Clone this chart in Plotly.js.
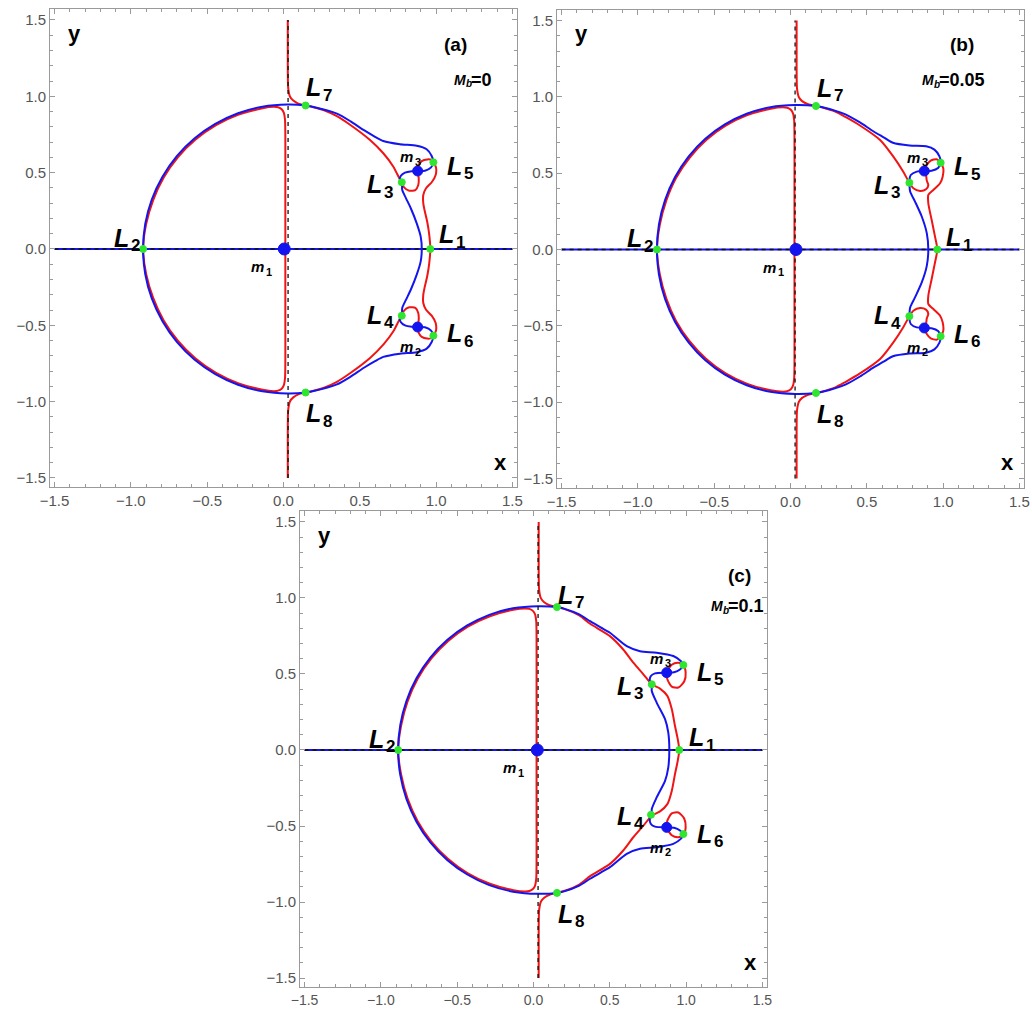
<!DOCTYPE html>
<html>
<head>
<meta charset="utf-8">
<script src="https://cdn.plot.ly/plotly-3.0.1.min.js"></script>
<style>
  html, body { margin: 0; padding: 0; background: #ffffff; }
  #chart { width: 1032px; height: 1009px; }
</style>
</head>
<body>
<div id="chart"></div>
<script>
// Zero-velocity curve families: red = Omega_x = 0, blue = Omega_y = 0,
// green = libration points L1..L8, blue dots = primaries m1, m2, m3.

const MB_VALUES = ['0', '0.05', '0.1'];
const PANEL_TAGS = ['(a)', '(b)', '(c)'];
const LIB_NAMES = ['1', '2', '3', '4', '5', '6', '7', '8'];
const PRIM_NAMES = ['1', '2', '3'];
const AXIS_SPAN = [-1.5, 1.5];
const GUIDE_X = 0.03;
const GUIDE_Y = 0;

// ---------- panel (a), Mb = 0 ----------
const aBlueLoop = [
  [-0.920, 0], [-0.906, 0.164], [-0.863, 0.324], [-0.793, 0.473], [-0.699, 0.608], [-0.582, 0.725],
  [-0.447, 0.819], [-0.298, 0.889], [-0.138, 0.932], [0.026, 0.946], [0.145, 0.940], [0.190, 0.932],
  [0.350, 0.887], [0.440, 0.836], [0.527, 0.778], [0.600, 0.735], [0.654, 0.707], [0.763, 0.686],
  [0.873, 0.676], [0.938, 0.653], [0.971, 0.609], [0.982, 0.568], [0.967, 0.535], [0.927, 0.513],
  [0.879, 0.511], [0.840, 0.509], [0.796, 0.500], [0.768, 0.478], [0.763, 0.452], [0.775, 0.437],
  [0.778, 0.386], [0.803, 0.332], [0.834, 0.267], [0.873, 0.168], [0.899, 0.081], [0.906, 0],
  [0.899, -0.081], [0.873, -0.168], [0.834, -0.267], [0.803, -0.332], [0.778, -0.386], [0.775, -0.437],
  [0.763, -0.452], [0.768, -0.478], [0.796, -0.500], [0.840, -0.509], [0.879, -0.511], [0.927, -0.513],
  [0.967, -0.535], [0.982, -0.568], [0.971, -0.609], [0.938, -0.653], [0.873, -0.676], [0.763, -0.686],
  [0.654, -0.707], [0.600, -0.735], [0.527, -0.778], [0.440, -0.836], [0.350, -0.887], [0.190, -0.932],
  [0.145, -0.940], [0.026, -0.946], [-0.138, -0.932], [-0.298, -0.889], [-0.447, -0.819], [-0.582, -0.725],
  [-0.699, -0.608], [-0.793, -0.473], [-0.863, -0.324], [-0.906, -0.164], [-0.920, 0]
];
const aRedOuter = [
  [0.028, 1.5], [0.028, 1.2], [0.031, 1.052], [0.043, 0.997], [0.064, 0.972], [0.097, 0.952],
  [0.145, 0.940], [0.190, 0.930], [0.270, 0.907], [0.350, 0.870], [0.436, 0.814], [0.567, 0.714],
  [0.654, 0.627], [0.720, 0.539], [0.759, 0.463], [0.775, 0.437], [0.790, 0.404], [0.824, 0.382],
  [0.864, 0.386], [0.883, 0.419], [0.886, 0.463], [0.879, 0.511], [0.886, 0.550], [0.906, 0.576],
  [0.942, 0.587], [0.971, 0.583], [0.982, 0.568], [0.999, 0.535], [0.997, 0.485], [0.971, 0.437],
  [0.934, 0.398], [0.916, 0.354], [0.916, 0.299], [0.924, 0.255], [0.942, 0.177], [0.955, 0.092],
  [0.962, 0],
  [0.955, -0.092], [0.942, -0.177], [0.924, -0.255], [0.916, -0.299], [0.916, -0.354], [0.934, -0.398],
  [0.971, -0.437], [0.997, -0.485], [0.999, -0.535], [0.982, -0.568], [0.971, -0.583], [0.942, -0.587],
  [0.906, -0.576], [0.886, -0.550], [0.879, -0.511], [0.886, -0.463], [0.883, -0.419], [0.864, -0.386],
  [0.824, -0.382], [0.790, -0.404], [0.775, -0.437], [0.759, -0.463], [0.720, -0.539], [0.654, -0.627],
  [0.567, -0.714], [0.436, -0.814], [0.350, -0.870], [0.270, -0.907], [0.190, -0.930], [0.145, -0.940],
  [0.097, -0.952], [0.064, -0.972], [0.043, -0.997], [0.031, -1.052], [0.028, -1.2], [0.028, -1.5]
];
const aRedInner = [
  [0.012, 0], [0.012, 0.4], [0.012, 0.75], [0.010, 0.845], [0.003, 0.890], [-0.012, 0.915],
  [-0.035, 0.928], [-0.065, 0.931], [-0.137, 0.922], [-0.294, 0.880], [-0.442, 0.811], [-0.576, 0.717],
  [-0.691, 0.602], [-0.785, 0.468], [-0.854, 0.320], [-0.900, 0.163], [-0.920, 0],
  [-0.900, -0.163], [-0.854, -0.320], [-0.785, -0.468], [-0.691, -0.602], [-0.576, -0.717], [-0.442, -0.811],
  [-0.294, -0.880], [-0.137, -0.922], [-0.065, -0.931], [-0.035, -0.928], [-0.012, -0.915], [0.003, -0.890],
  [0.010, -0.845], [0.012, -0.75], [0.012, -0.4], [0.012, 0]
];
const aLibPts = [
  [0.962, 0], [-0.920, 0], [0.775, 0.437], [0.775, -0.437],
  [0.982, 0.568], [0.982, -0.568], [0.145, 0.940], [0.145, -0.940]
];
const aPrimPts = [[0.005, 0], [0.879, -0.511], [0.879, 0.511]];

// ---------- panel (b), Mb = 0.05 ----------
const bBlueLoop = [
  [-0.875, 0], [-0.862, 0.164], [-0.822, 0.324], [-0.757, 0.473], [-0.668, 0.608], [-0.558, 0.725],
  [-0.430, 0.819], [-0.287, 0.889], [-0.132, 0.932], [0.030, 0.946], [0.167, 0.940], [0.210, 0.932],
  [0.360, 0.885], [0.455, 0.832], [0.540, 0.776], [0.610, 0.735], [0.671, 0.699], [0.780, 0.681],
  [0.889, 0.676], [0.943, 0.654], [0.976, 0.610], [0.984, 0.568], [0.967, 0.534], [0.924, 0.516],
  [0.877, 0.514], [0.827, 0.510], [0.788, 0.488], [0.779, 0.455], [0.779, 0.437], [0.784, 0.380],
  [0.816, 0.314], [0.860, 0.216], [0.893, 0.107], [0.903, 0],
  [0.893, -0.107], [0.860, -0.216], [0.816, -0.314], [0.784, -0.380], [0.779, -0.437], [0.779, -0.455],
  [0.788, -0.488], [0.827, -0.510], [0.877, -0.514], [0.924, -0.516], [0.967, -0.534], [0.984, -0.568],
  [0.976, -0.610], [0.943, -0.654], [0.889, -0.676], [0.780, -0.681], [0.671, -0.699], [0.610, -0.735],
  [0.540, -0.776], [0.455, -0.832], [0.360, -0.885], [0.210, -0.932], [0.167, -0.940], [0.030, -0.946],
  [-0.132, -0.932], [-0.287, -0.889], [-0.430, -0.819], [-0.558, -0.725], [-0.668, -0.608], [-0.757, -0.473],
  [-0.822, -0.324], [-0.862, -0.164], [-0.875, 0]
];
const bRedOuter = [
  [0.040, 1.5], [0.040, 1.2], [0.043, 1.052], [0.055, 0.997], [0.076, 0.972], [0.115, 0.952],
  [0.167, 0.940], [0.210, 0.930], [0.290, 0.905], [0.360, 0.868], [0.455, 0.812], [0.587, 0.717],
  [0.674, 0.608], [0.739, 0.509], [0.779, 0.437], [0.805, 0.401], [0.849, 0.383], [0.888, 0.394],
  [0.903, 0.422], [0.893, 0.451], [0.888, 0.488], [0.877, 0.514], [0.893, 0.553], [0.919, 0.582],
  [0.958, 0.591], [0.984, 0.568], [1.001, 0.532], [0.997, 0.477], [0.980, 0.434], [0.936, 0.390],
  [0.903, 0.357], [0.903, 0.303], [0.925, 0.193], [0.947, 0.084], [0.962, 0],
  [0.947, -0.084], [0.925, -0.193], [0.903, -0.303], [0.903, -0.357], [0.936, -0.390], [0.980, -0.434],
  [0.997, -0.477], [1.001, -0.532], [0.984, -0.568], [0.958, -0.591], [0.919, -0.582], [0.893, -0.553],
  [0.877, -0.514], [0.888, -0.488], [0.893, -0.451], [0.903, -0.422], [0.888, -0.394], [0.849, -0.383],
  [0.805, -0.401], [0.779, -0.437], [0.739, -0.509], [0.674, -0.608], [0.587, -0.717], [0.455, -0.812],
  [0.360, -0.868], [0.290, -0.905], [0.210, -0.930], [0.167, -0.940], [0.115, -0.952], [0.076, -0.972],
  [0.055, -0.997], [0.043, -1.052], [0.040, -1.2], [0.040, -1.5]
];
const bRedInner = [
  [0.026, 0], [0.026, 0.4], [0.026, 0.75], [0.024, 0.845], [0.017, 0.890], [0.002, 0.915],
  [-0.021, 0.928], [-0.050, 0.931], [-0.130, 0.922], [-0.283, 0.880], [-0.425, 0.811], [-0.552, 0.717],
  [-0.660, 0.602], [-0.750, 0.468], [-0.814, 0.320], [-0.856, 0.163], [-0.875, 0],
  [-0.856, -0.163], [-0.814, -0.320], [-0.750, -0.468], [-0.660, -0.602], [-0.552, -0.717], [-0.425, -0.811],
  [-0.283, -0.880], [-0.130, -0.922], [-0.050, -0.931], [-0.021, -0.928], [0.002, -0.915], [0.017, -0.890],
  [0.024, -0.845], [0.026, -0.75], [0.026, -0.4], [0.026, 0]
];
const bLibPts = [
  [0.962, 0], [-0.875, 0], [0.779, 0.437], [0.779, -0.437],
  [0.984, 0.568], [0.984, -0.568], [0.167, 0.940], [0.167, -0.940]
];
const bPrimPts = [[0.036, 0], [0.877, -0.514], [0.877, 0.514]];

// ---------- panel (c), Mb = 0.1 ----------
const cBlueLoop = [
  [-0.887, 0], [-0.873, 0.164], [-0.832, 0.324], [-0.766, 0.473], [-0.676, 0.608], [-0.564, 0.725],
  [-0.434, 0.819], [-0.290, 0.889], [-0.134, 0.932], [0.028, 0.946], [0.154, 0.940], [0.200, 0.930],
  [0.300, 0.892], [0.371, 0.847], [0.440, 0.806], [0.501, 0.771], [0.611, 0.683], [0.698, 0.650],
  [0.807, 0.640], [0.916, 0.618], [0.965, 0.585], [0.982, 0.559], [0.960, 0.530], [0.921, 0.511],
  [0.873, 0.509], [0.796, 0.504], [0.768, 0.485], [0.763, 0.452], [0.775, 0.432], [0.775, 0.388],
  [0.807, 0.312], [0.862, 0.203], [0.883, 0.116], [0.890, 0],
  [0.883, -0.116], [0.862, -0.203], [0.807, -0.312], [0.775, -0.388], [0.775, -0.432], [0.763, -0.452],
  [0.768, -0.485], [0.796, -0.504], [0.873, -0.509], [0.921, -0.511], [0.960, -0.530], [0.982, -0.559],
  [0.965, -0.585], [0.916, -0.618], [0.807, -0.640], [0.698, -0.650], [0.611, -0.683], [0.501, -0.771],
  [0.440, -0.806], [0.371, -0.847], [0.300, -0.892], [0.200, -0.930], [0.154, -0.940], [0.028, -0.946],
  [-0.134, -0.932], [-0.290, -0.889], [-0.434, -0.819], [-0.564, -0.725], [-0.676, -0.608], [-0.766, -0.473],
  [-0.832, -0.324], [-0.873, -0.164], [-0.887, 0]
];
const cRedOuter = [
  [0.034, 1.5], [0.034, 1.2], [0.037, 1.052], [0.049, 0.997], [0.070, 0.972], [0.105, 0.952],
  [0.154, 0.940], [0.200, 0.928], [0.300, 0.885], [0.371, 0.830], [0.501, 0.749], [0.588, 0.661],
  [0.654, 0.574], [0.720, 0.498], [0.775, 0.432], [0.829, 0.404], [0.877, 0.356], [0.906, 0.269],
  [0.927, 0.159], [0.945, 0.072], [0.955, 0],
  [0.945, -0.072], [0.927, -0.159], [0.906, -0.269], [0.877, -0.356], [0.829, -0.404], [0.775, -0.432],
  [0.720, -0.498], [0.654, -0.574], [0.588, -0.661], [0.501, -0.749], [0.371, -0.830], [0.300, -0.885],
  [0.200, -0.928], [0.154, -0.940], [0.105, -0.952], [0.070, -0.972], [0.049, -0.997], [0.037, -1.052],
  [0.034, -1.2], [0.034, -1.5]
];
const cRedLoopTop = [
  [0.873, 0.509], [0.877, 0.465], [0.906, 0.417], [0.949, 0.411], [0.988, 0.452], [0.997, 0.509],
  [0.982, 0.559], [0.949, 0.574], [0.906, 0.561], [0.873, 0.509]
];
const cRedLoopBottom = [
  [0.873, -0.509], [0.877, -0.465], [0.906, -0.417], [0.949, -0.411], [0.988, -0.452], [0.997, -0.509],
  [0.982, -0.559], [0.949, -0.574], [0.906, -0.561], [0.873, -0.509]
];
const cRedInner = [
  [0.020, 0], [0.020, 0.4], [0.020, 0.75], [0.018, 0.845], [0.011, 0.890], [-0.004, 0.915],
  [-0.027, 0.928], [-0.057, 0.931], [-0.132, 0.922], [-0.286, 0.880], [-0.430, 0.811], [-0.559, 0.717],
  [-0.669, 0.602], [-0.759, 0.468], [-0.825, 0.320], [-0.867, 0.163], [-0.887, 0],
  [-0.867, -0.163], [-0.825, -0.320], [-0.759, -0.468], [-0.669, -0.602], [-0.559, -0.717], [-0.430, -0.811],
  [-0.286, -0.880], [-0.132, -0.922], [-0.057, -0.931], [-0.027, -0.928], [-0.004, -0.915], [0.011, -0.890],
  [0.018, -0.845], [0.020, -0.75], [0.020, -0.4], [0.020, 0]
];
const cLibPts = [
  [0.955, 0], [-0.887, 0], [0.775, 0.432], [0.770, -0.426],
  [0.982, 0.559], [0.982, -0.553], [0.154, 0.940], [0.154, -0.940]
];
const cPrimPts = [[0.025, 0], [0.873, -0.509], [0.873, 0.509]];

// ---------- drawing ----------
const RED = '#f01414';
const BLUE = '#1414ee';
const GREEN = '#2ee62e';
const BLACK = '#111111';
const FONT = 'Liberation Sans, Arial, sans-serif';

function curve(pts, color, ax) {
  return {
    type: 'scatter', mode: 'lines', opacity: 1,
    x: pts.map(p => p[0]), y: pts.map(p => p[1]),
    xaxis: ax[0], yaxis: ax[1],
    line: { color: color, width: 2, shape: 'spline', smoothing: 0.7 },
    hoverinfo: 'skip', showlegend: false
  };
}
function straight(xs, ys, color, ax, dash, width) {
  return {
    type: 'scatter', mode: 'lines', opacity: 1, x: xs, y: ys, xaxis: ax[0], yaxis: ax[1],
    line: { color: color, width: width, dash: dash },
    hoverinfo: 'skip', showlegend: false
  };
}
function dots(pts, color, sizes, ax) {
  return {
    type: 'scatter', mode: 'markers', opacity: 1,
    x: pts.map(p => p[0]), y: pts.map(p => p[1]),
    xaxis: ax[0], yaxis: ax[1],
    marker: { color: color, size: sizes, opacity: 1, line: { width: 1, color: color } },
    hoverinfo: 'skip', showlegend: false
  };
}

const panels = [
  { ax: ['x', 'y'], blue: aBlueLoop, red: [aRedOuter, aRedInner], lib: aLibPts, prim: aPrimPts },
  { ax: ['x2', 'y2'], blue: bBlueLoop, red: [bRedOuter, bRedInner], lib: bLibPts, prim: bPrimPts },
  { ax: ['x3', 'y3'], blue: cBlueLoop, red: [cRedOuter, cRedInner, cRedLoopTop, cRedLoopBottom], lib: cLibPts, prim: cPrimPts }
];

// label placement inside each frame (data units, centre of the whole label)
const LIB_LABEL_POS = [
  [[1.096, 0.097], [-1.033, 0.075], [0.627, 0.424], [0.627, -0.432], [1.153, 0.545], [1.153, -0.552], [0.223, 1.060], [0.223, -1.076]],
  [[1.100, 0.080], [-0.990, 0.075], [0.627, 0.424], [0.627, -0.432], [1.153, 0.545], [1.153, -0.552], [0.250, 1.060], [0.250, -1.076]],
  [[1.100, 0.085], [-1.000, 0.075], [0.627, 0.424], [0.627, -0.432], [1.153, 0.515], [1.153, -0.552], [0.240, 1.020], [0.240, -1.076]]
];
const PRIM_LABEL_POS = [
  [[-0.138, -0.116], [0.834, -0.640], [0.834, 0.604]],
  [[-0.110, -0.116], [0.834, -0.640], [0.834, 0.604]],
  [[-0.130, -0.116], [0.834, -0.640], [0.834, 0.604]]
];
const TAG_POS = [[1.126, 1.341], [1.126, 1.341], [1.353, 1.150]];
// left edge of the "Mb=..." label
const MB_POS = [[1.111, 1.107], [0.855, 1.107], [1.157, 0.945]];

const traces = [];
const annotations = [];

function note(xr, yr, x, y, text, size, xanchor, xshift, yshift) {
  annotations.push({
    xref: xr, yref: yr, x: x, y: y, text: text, showarrow: false,
    xanchor: xanchor || 'center', yanchor: 'middle',
    xshift: xshift || 0, yshift: yshift || 0, borderpad: 0,
    font: { family: FONT, size: size, color: '#000000' }
  });
}
// a symbol with a subscript, drawn as two pieces so that the digit sits low and small
function subLabel(xr, yr, pos, sym, sub, size, subSize, drop, split) {
  note(xr, yr, pos[0], pos[1], '<b><i>' + sym + '</i></b>', size, 'right', split, 0);
  note(xr, yr, pos[0], pos[1], '<b>' + sub + '</b>', subSize, 'left', split, -drop);
}

panels.forEach((p, i) => {
  const ax = p.ax;
  traces.push(straight(AXIS_SPAN, [GUIDE_Y, GUIDE_Y], BLUE, ax, 'solid', 2));
  p.red.forEach(r => traces.push(curve(r, RED, ax)));
  traces.push(curve(p.blue, BLUE, ax));
  traces.push(straight(AXIS_SPAN, [GUIDE_Y, GUIDE_Y], BLACK, ax, '4px,4px', 1.3));
  traces.push(straight([GUIDE_X, GUIDE_X], AXIS_SPAN, BLACK, ax, '4px,4px', 1.3));
  traces.push(dots(p.prim, BLUE, [12, 10, 10], ax));
  traces.push(dots(p.lib, GREEN, 7, ax));

  const xr = ax[0], yr = ax[1];
  LIB_NAMES.forEach((n, k) => subLabel(xr, yr, LIB_LABEL_POS[i][k], 'L', n, 25, 17, 8, 4));
  PRIM_NAMES.forEach((n, k) => subLabel(xr, yr, PRIM_LABEL_POS[i][k], 'm', n, 15, 11, 5, 3));
  note(xr, yr, TAG_POS[i][0], TAG_POS[i][1], '<b>' + PANEL_TAGS[i] + '</b>', 19);
  // Mb = value: italic M, small subscript b, then the value
  note(xr, yr, MB_POS[i][0], MB_POS[i][1], '<b><i>M</i></b>', 14, 'left', 0, 0);
  note(xr, yr, MB_POS[i][0], MB_POS[i][1], '<b><i>b</i></b>', 10, 'left', 12, -4);
  note(xr, yr, MB_POS[i][0], MB_POS[i][1], '<b>=' + MB_VALUES[i] + '</b>', 18, 'left', 17, 0);
  note(xr, yr, -1.372, 1.413, '<b>y</b>', 22);
  note(xr, yr, 1.424, -1.398, '<b>x</b>', 22);
});

const W = 1032, H = 1009;
function frame(left, right, top, bottom) {
  return { x: [left / W, right / W], y: [1 - bottom / H, 1 - top / H] };
}
const frames = [frame(50, 517, 9, 487), frame(557, 1024, 9.5, 487.5), frame(300, 767, 511, 987)];

function xAxis(dom, anchor, fs) {
  return {
    domain: dom, anchor: anchor, range: [-1.53, 1.53],
    tick0: 0, dtick: 0.5, tickformat: '.1f',
    ticks: 'inside', ticklen: 5, tickwidth: 1, tickcolor: '#9a9a9a',
    minor: { ticks: 'inside', ticklen: 3, tickcolor: '#9a9a9a', dtick: 0.1 },
    showline: true, linecolor: '#9a9a9a', linewidth: 1, mirror: 'allticks',
    showgrid: false, zeroline: false, fixedrange: true,
    tickfont: { family: FONT, size: fs || 15, color: '#555555' }
  };
}
function yAxis(dom, anchor) {
  const a = xAxis(dom, anchor);
  a.range = [-1.559, 1.572];
  return a;
}

const layout = {
  width: W, height: H,
  margin: { l: 0, r: 0, t: 0, b: 0 },
  paper_bgcolor: '#ffffff', plot_bgcolor: '#ffffff',
  showlegend: false,
  xaxis: xAxis(frames[0].x, 'y'), yaxis: yAxis(frames[0].y, 'x'),
  xaxis2: xAxis(frames[1].x, 'y2'), yaxis2: yAxis(frames[1].y, 'x2'),
  xaxis3: xAxis(frames[2].x, 'y3', 14), yaxis3: yAxis(frames[2].y, 'x3'),
  annotations: annotations
};

Plotly.newPlot('chart', traces, layout, { displayModeBar: false, staticPlot: true });
</script>
</body>
</html>
